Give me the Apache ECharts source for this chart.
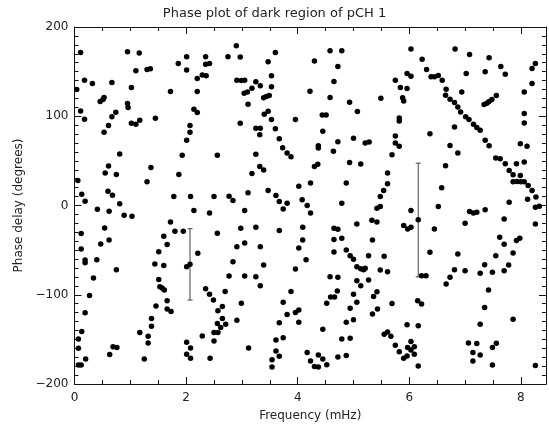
<!DOCTYPE html>
<html>
<head>
<meta charset="utf-8">
<script src="https://cdn.jsdelivr.net/npm/echarts@6/dist/echarts.min.js"></script>
<style>html,body{margin:0;padding:0;background:#fff;}#c{width:549px;height:427px;}</style>
</head>
<body>
<div id="c"></div>
<script>
// Frequency (mHz), phase delay (degrees)
const points0to2top = [[0.11,171.5],[0.95,172.3],[1.16,170.8],[0.18,140.4],[0.32,136.7],[0.04,130],[0.67,137.8],[1.1,150.9],[1.3,152.4],[1.36,153.2],[1.02,132.2],[0.46,116.5],[0.51,118.7],[0.53,121],[0.95,114.2],[0.96,109.7],[0.11,106],[0.18,96.6],[0.74,104.5],[0.67,99.3],[0.61,89.5],[0.53,82],[1.02,92.1],[1.1,91],[1.17,95.5],[1.45,97.8],[0.81,57.7],[0.61,44.2],[0.55,36.3],[0.75,34.8],[1.37,42.7],[1.3,26.6],[0.06,28.1],[0.13,12.7],[0.19,4.9],[0.6,16],[0.68,11.6],[0.81,1.9],[1.86,159.2],[2.01,166.7],[2.01,151.7],[2.35,166.7],[2.35,158.4],[2.42,159.2],[2.2,142.3],[2.29,146.1],[2.36,145.3],[1.72,127.7],[2.2,127.7],[2.14,107.9],[2.2,104.1],[2.07,89.5],[2.07,82],[2.01,73],[1.93,56.2],[2.56,56.2],[1.87,34.8],[1.78,10.1],[2.08,10.1],[2.5,10.1]];
const points0to2bottom = [[0.41,-4.1],[0.62,-6.4],[0.89,-10.9],[1.03,-12],[2.14,-5.6],[2.42,-8.3],[0.12,-31.5],[0.12,-48.7],[0.54,-25.1],[0.47,-43.1],[0.62,-38.6],[0.4,-60.7],[0.19,-61.1],[0.19,-64.1],[0.34,-81.3],[0.75,-71.9],[0.27,-100.8],[0.19,-120.2],[0.13,-141.2],[0.07,-149.5],[0.07,-159.9],[0.2,-171.9],[0.07,-178.7],[0.12,-178.7],[0.63,-167],[0.69,-158.4],[0.76,-159.2],[1.72,-18.4],[1.8,-28.9],[1.95,-28.9],[1.6,-34.5],[1.66,-43.8],[1.51,-51.7],[1.44,-65.6],[1.6,-67.1],[1.51,-82.8],[1.53,-91],[1.57,-92.5],[1.61,-94.8],[1.66,-106.8],[1.66,-116.1],[1.73,-118.7],[1.46,-112.5],[1.38,-126.6],[1.38,-135.2],[1.17,-142.3],[1.32,-146.5],[1.32,-154],[1.25,-171.9],[2.01,-68.6],[2.07,-65.9],[2.21,-53.6],[2.01,-153.2],[2.08,-159.6],[2.01,-166.7],[2.08,-171.2],[2.29,-146.1],[2.43,-171.2],[2.5,-151.7],[2.5,-142.3],[2.57,-142.3],[2.56,-132.2],[2.57,-118],[2.49,-106],[2.42,-99.3],[2.35,-93.3],[2.56,-31.1]];
const points3to5top = [[2.9,179],[2.75,166.7],[2.97,166.3],[3.6,171.5],[3.47,161],[4.58,173.4],[4.79,173.4],[4.3,161.8],[4.72,155.8],[2.91,140.4],[2.99,140.1],[3.05,140.4],[3.53,145.3],[3.25,138.6],[3.33,134.1],[3.18,131.5],[3.1,127.3],[3.04,125.8],[3.53,133],[3.11,113.5],[3.39,120.6],[3.44,122.1],[3.49,123.2],[3.4,102.2],[3.47,105.6],[3.53,96.3],[2.97,92.1],[3.25,86.5],[3.33,86.5],[3.32,79.4],[3.6,86.1],[3.67,74.9],[3.73,64.8],[3.81,58.8],[3.88,54.7],[3.25,57.3],[3.32,43.8],[3.39,39.7],[3.18,35.9],[3.96,96.3],[4.22,128.1],[4.65,139],[4.58,121],[4.44,101.5],[4.51,101.5],[4.45,83.1],[4.37,67],[4.37,64.4],[4.3,43.8],[4.36,46.1],[4.23,25.1],[4.02,21.7],[4.87,25.1],[4.93,115.7],[5.07,105.2],[5.49,120.2],[4.72,71.5],[4.64,60.7],[5.0,75.3],[5.21,70],[5.28,71.2],[4.93,48.3],[5.13,46.4],[5.54,16.9],[5.48,10.1],[2.77,10.5],[2.84,5.6],[3.11,14.2],[3.47,16.9],[3.61,11.2],[3.67,4.5],[3.81,2.6],[4.08,6.4],[4.17,0],[4.79,2.6]];
const points3to5bottom = [[3.05,-5.6],[3.74,-3.8],[4.23,-8.3],[5.42,-3],[5.48,-1.1],[2.98,-25.5],[3.25,-24.4],[3.05,-42],[2.91,-46.1],[3.33,-46.1],[2.84,-62.9],[3.39,-66.7],[2.77,-79],[3.05,-79],[3.25,-79.8],[3.33,-89.9],[2.7,-96.3],[2.65,-113.1],[2.99,-109.4],[2.65,-126.6],[2.71,-133],[2.62,-136.7],[2.91,-128.5],[3.12,-159.6],[3.67,-28.1],[4.02,-47.6],[4.09,-38.6],[4.09,-24.4],[4.15,-60.7],[3.96,-71.2],[3.88,-96.3],[3.74,-108.3],[3.81,-122.1],[3.96,-119.9],[4.02,-117.2],[4.02,-130.7],[3.67,-131.5],[3.74,-148.3],[3.61,-150.6],[3.61,-162.9],[3.67,-168.9],[3.54,-172.7],[3.54,-180.9],[4.17,-164.8],[4.23,-174.2],[4.3,-180.5],[4.37,-180.9],[4.37,-167.4],[4.45,-171.9],[4.52,-178.3],[4.45,-138.6],[4.72,-169.7],[4.87,-168.2],[4.79,-149.5],[4.94,-148.7],[4.87,-130.7],[5.0,-128.1],[4.94,-115],[5.06,-108.3],[5.0,-99.3],[4.71,-95.9],[4.66,-102.6],[4.59,-102.6],[4.52,-109.4],[4.58,-79.8],[4.72,-80.5],[4.65,-25.5],[4.72,-26.6],[4.65,-38.2],[4.79,-36.7],[4.65,-52.1],[4.87,-49.8],[4.94,-56.2],[5.0,-60.3],[5.06,-68.6],[5.13,-70.8],[5.18,-71.9],[5.21,-70.4],[5.06,-84.3],[5.13,-89.9],[5.27,-83.5],[5.06,-20.6],[5.34,-38.6],[5.27,-56.2],[5.48,-72.3],[5.55,-56.9],[5.42,-96.7],[5.36,-101.9],[5.43,-116.1],[5.34,-121.7],[5.33,-16.5],[5.42,-18.4]];
const points6to8top = [[6.03,175.3],[6.23,164],[6.31,152.4],[6.39,144.2],[6.45,144.2],[6.52,145.7],[6.59,140.4],[6.66,130.3],[6.65,123.6],[6.73,119.1],[6.81,115.4],[6.87,110.5],[6.92,104.9],[7.01,99.3],[7.07,96.3],[7.15,91],[7.21,87.3],[7.27,84.3],[7.36,73],[7.43,67],[7.55,53.2],[7.63,52.4],[7.72,46.8],[7.79,39.3],[7.86,34.5],[7.99,33.7],[7.86,26.6],[7.93,27],[8.0,26.6],[8.06,26.6],[8.13,22.5],[8.2,16.9],[8.27,9.4],[8.12,7.1],[7.79,3.7],[6.82,175.3],[7.08,169.3],[7.43,165.5],[7.64,155.8],[7.72,147],[7.36,149.8],[7.02,147.9],[6.94,127.3],[7.34,113.1],[7.39,114.6],[7.43,116.5],[7.48,118.7],[7.56,123.2],[8.26,159.2],[8.2,153.6],[8.2,136.7],[8.06,127.3],[8.06,103],[8.06,92.5],[7.99,69.3],[8.11,66.3],[8.06,48.7],[7.92,46.8],[6.81,88],[6.37,80.5],[6.73,67.2],[6.87,58.8],[6.65,44.6],[6.58,19.9],[5.96,147.9],[6.03,144.9],[5.75,140.4],[5.84,132.2],[5.96,131.1],[5.88,120.6],[5.9,117.2],[5.82,98.1],[5.82,94.8],[5.75,77.9],[5.75,70],[5.82,66.3],[5.69,56.9],[5.61,36.3],[5.61,24.3]];
const points6to8bottom = [[6.03,-5.6],[6.52,-1.1],[7.08,-6.8],[7.15,-8.3],[7.21,-7.5],[7.36,-4.9],[8.26,-1.9],[8.33,-0.8],[5.9,-22.5],[5.97,-26.2],[6.03,-24.4],[6.16,-16.1],[6.45,-26.2],[7.0,-19.9],[5.61,-74.2],[6.22,-78.7],[6.3,-78.7],[6.37,-52.5],[6.87,-54.3],[6.81,-71.9],[6.73,-80.5],[6.66,-88],[7.0,-73],[7.27,-76],[7.35,-66.3],[7.49,-74.9],[7.55,-56.2],[7.62,-35.6],[7.7,-43.5],[7.7,-15],[7.78,-66.7],[7.7,-73],[7.86,-53.2],[7.92,-39.3],[7.98,-36.7],[8.26,-20.6],[7.42,-94.8],[7.35,-114.2],[7.27,-133],[7.06,-154],[7.21,-154.7],[7.14,-164.8],[7.27,-167.4],[7.14,-174.2],[7.49,-159.2],[7.56,-154.3],[7.49,-178.7],[7.86,-127.4],[8.26,-179.4],[5.69,-109.8],[6.15,-106.8],[6.22,-110.5],[5.96,-133.7],[6.16,-134.8],[5.55,-144.2],[5.61,-141.6],[5.67,-146.5],[5.75,-156.6],[5.82,-164],[5.9,-171.2],[5.96,-168.6],[5.97,-159.2],[6.03,-152.5],[6.03,-161.8],[6.09,-158.4],[6.09,-166.7],[6.16,-179.8]];

// Error bars
const errFreq = [2.07, 6.16];
const errLow = [-106, -80];
const errHigh = [-26, 47.5];

// Axes
const xTicks = [0, 2, 4, 6, 8];
const yTicks = [-200, -100, 0, 100, 200];

const allPoints = [].concat(points0to2top, points0to2bottom, points3to5top, points3to5bottom, points6to8top, points6to8bottom);
const errData = errFreq.map((f, i) => [f, errLow[i], errHigh[i]]);

const FONT = 'DejaVu Sans';
const axisCol = '#111';
function xAx(pos, labels) {
  return {
    type: 'value', position: pos, min: 0, max: 8.45, interval: 2,
    axisLine: { show: true, onZero: false, lineStyle: { color: axisCol, width: 1 } },
    axisTick: { show: true, inside: true, length: 7, lineStyle: { color: axisCol } },
    minorTick: { show: true, splitNumber: 4, length: 4, lineStyle: { color: axisCol } },
    splitLine: { show: false },
    axisLabel: { show: labels, color: '#222', fontFamily: FONT, fontSize: 12, margin: 8, showMaxLabel: false,
      formatter: v => xTicks.includes(v) ? String(v) : '' },
    name: labels ? 'Frequency (mHz)' : '', nameLocation: 'middle', nameGap: 26,
    nameTextStyle: { color: '#222', fontFamily: FONT, fontSize: 12 }
  };
}
function yAx(pos, labels) {
  return {
    type: 'value', position: pos, min: -200, max: 200, interval: 100,
    axisLine: { show: true, onZero: false, lineStyle: { color: axisCol, width: 1 } },
    axisTick: { show: true, inside: true, length: 7, lineStyle: { color: axisCol } },
    minorTick: { show: true, splitNumber: 10, length: 4, lineStyle: { color: axisCol } },
    splitLine: { show: false },
    axisLabel: { show: labels, color: '#222', fontFamily: FONT, fontSize: 12, margin: 6,
      formatter: v => yTicks.includes(v) ? (v < 0 ? '\u2212' + Math.abs(v) : String(v)) : '' },
    name: labels ? 'Phase delay (degrees)' : '', nameLocation: 'middle', nameGap: 48,
    nameTextStyle: { color: '#222', fontFamily: FONT, fontSize: 12 }
  };
}

const chart = echarts.init(document.getElementById('c'), null, { renderer: 'canvas' });
chart.setOption({
  backgroundColor: '#fff',
  animation: false,
  title: { text: 'Phase plot of dark region of pCH 1', left: 'center', top: 2,
    textStyle: { color: '#222', fontFamily: FONT, fontSize: 13, fontWeight: 'normal' } },
  grid: { left: 74.5, right: 3, top: 27, bottom: 43, containLabel: false },
  xAxis: [xAx('bottom', true), xAx('top', false)],
  yAxis: [yAx('left', true), yAx('right', false)],
  series: [
    { type: 'scatter', xAxisIndex: 0, yAxisIndex: 0, data: allPoints, symbol: 'circle', symbolSize: 5.5,
      itemStyle: { color: '#000', opacity: 1 }, silent: true },
    { type: 'custom', xAxisIndex: 0, yAxisIndex: 0, data: errData, silent: true,
      renderItem: function (params, api) {
        const x = api.value(0), lo = api.value(1), hi = api.value(2);
        const p1 = api.coord([x, lo]), p2 = api.coord([x, hi]);
        const w = 2.5;
        const st = { stroke: '#444', lineWidth: 1 };
        return { type: 'group', children: [
          { type: 'line', shape: { x1: p1[0], y1: p1[1], x2: p2[0], y2: p2[1] }, style: st },
          { type: 'line', shape: { x1: p1[0] - w, y1: p1[1], x2: p1[0] + w, y2: p1[1] }, style: st },
          { type: 'line', shape: { x1: p2[0] - w, y1: p2[1], x2: p2[0] + w, y2: p2[1] }, style: st }
        ]};
      } }
  ]
});
</script>
</body>
</html>
